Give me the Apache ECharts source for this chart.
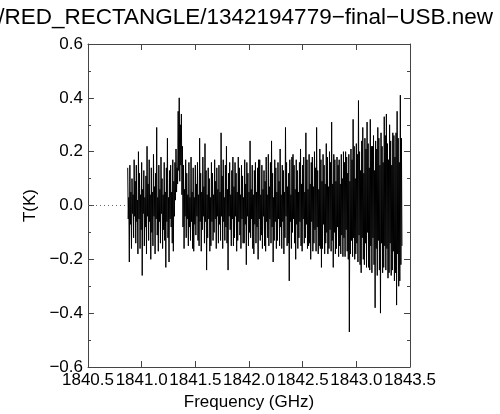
<!DOCTYPE html>
<html>
<head>
<meta charset="utf-8">
<script src="https://cdn.jsdelivr.net/npm/echarts@6/dist/echarts.min.js"></script>
<style>html,body{margin:0;padding:0;background:#fff;}#c{width:500px;height:414px;}</style>
</head>
<body>
<div id="c"></div>
<script>
// Spectrum channels: first channel frequency (GHz) and channel width (GHz)
var freqStart = 1840.87;
var channelWidth = 0.005;
// Antenna temperature T(K) per channel
var temps = [
  0.14, -0.05, 0.03, -0.21, 0.15, -0.07, 0.05, -0.16, 0.10, -0.03,
  0.04, -0.12, 0.17, -0.04, 0.09, -0.14, 0.15, -0.06, 0.02, -0.18,
  0.20, -0.05, 0.12, -0.16, 0.04, -0.09, 0.16, -0.26, 0.06, -0.03,
  0.13, -0.15, 0.03, -0.08, 0.11, -0.18, 0.22, -0.04, 0.08, -0.13,
  0.17, -0.06, 0.04, -0.20, 0.14, -0.10, 0.05, -0.15, 0.19, -0.04,
  0.07, -0.18, 0.12, -0.05, 0.29, -0.11, 0.03, -0.17, 0.15, -0.06,
  0.06, -0.14, 0.18, -0.03, 0.10, -0.16, 0.04, -0.09, 0.16, -0.13,
  0.05, -0.23, 0.14, -0.06, 0.25, -0.12, 0.03, -0.21, 0.13, -0.05,
  0.15, -0.08, 0.05, -0.14, 0.17, -0.17, 0.09, -0.04, 0.16, 0.02,
  0.21, 0.05, 0.14, 0.08, 0.35, 0.13, 0.40, 0.09, 0.30, 0.15,
  0.34, 0.04, 0.22, -0.08, 0.15, -0.16, 0.06, -0.04, 0.17, -0.12,
  0.12, -0.05, 0.04, -0.15, 0.16, -0.08, 0.03, -0.13, 0.18, -0.06,
  0.05, -0.16, 0.14, -0.17, 0.03, -0.07, 0.15, -0.11, 0.08, -0.04,
  0.16, -0.13, 0.04, -0.15, 0.25, -0.06, 0.12, -0.17, 0.05, -0.09,
  0.18, -0.04, 0.07, -0.14, 0.23, -0.06, 0.13, -0.24, 0.04, -0.12,
  0.14, -0.05, 0.10, -0.17, 0.03, -0.15, 0.16, -0.06, 0.12, -0.13,
  0.04, -0.10, 0.17, -0.05, 0.09, -0.16, 0.14, -0.04, 0.06, -0.14,
  0.15, -0.07, 0.05, -0.13, 0.27, -0.04, 0.11, -0.16, 0.17, -0.06,
  0.03, -0.13, 0.15, -0.08, 0.22, -0.14, 0.06, -0.24, 0.12, -0.04,
  0.16, -0.09, 0.04, -0.15, 0.13, -0.05, 0.18, -0.15, 0.07, -0.12,
  0.16, -0.04, 0.12, -0.17, 0.05, -0.13, 0.18, -0.06, 0.14, -0.11,
  0.04, -0.16, 0.15, -0.05, 0.11, -0.14, 0.03, -0.14, 0.17, -0.07,
  0.08, -0.22, 0.16, -0.04, 0.12, -0.15, 0.05, -0.10, 0.24, -0.12,
  0.06, -0.05, 0.15, -0.16, 0.04, -0.18, 0.13, -0.07, 0.16, -0.14,
  0.05, -0.08, 0.14, -0.20, 0.17, -0.05, 0.17, -0.13, 0.04, -0.11,
  0.15, -0.16, 0.06, -0.04, 0.13, -0.15, 0.09, -0.17, 0.18, -0.06,
  0.04, -0.12, 0.19, -0.15, 0.07, -0.05, 0.16, -0.14, 0.24, -0.08,
  0.12, -0.21, 0.03, -0.13, 0.17, -0.06, 0.14, -0.16, 0.05, -0.13,
  0.16, -0.05, 0.09, -0.15, 0.21, -0.08, 0.04, -0.16, 0.15, -0.06,
  0.13, -0.18, 0.05, -0.12, 0.29, -0.04, 0.16, -0.15, 0.07, -0.14,
  0.12, -0.28, 0.17, -0.06, 0.04, -0.16, 0.18, -0.10, 0.19, -0.05,
  0.15, -0.14, 0.06, -0.20, 0.17, -0.07, 0.13, -0.16, 0.05, -0.12,
  0.16, -0.06, 0.21, -0.15, 0.08, -0.17, 0.15, -0.05, 0.18, -0.14,
  0.05, -0.12, 0.27, -0.07, 0.17, -0.16, 0.06, -0.15, 0.19, -0.14,
  0.08, -0.20, 0.16, -0.06, 0.18, -0.17, 0.07, -0.14, 0.20, -0.09,
  0.14, -0.17, 0.29, -0.08, 0.13, -0.18, 0.06, -0.15, 0.21, -0.16,
  0.17, -0.23, 0.09, -0.16, 0.19, -0.07, 0.15, -0.18, 0.08, -0.14,
  0.23, -0.10, 0.18, -0.18, 0.07, -0.16, 0.20, -0.09, 0.16, -0.17,
  0.31, -0.13, 0.08, -0.23, 0.19, -0.10, 0.17, -0.18, 0.09, -0.16,
  0.18, -0.08, 0.15, -0.19, 0.17, -0.15, 0.08, -0.18, 0.19, -0.11,
  0.10, -0.19, 0.20, -0.12, 0.16, -0.19, 0.20, -0.09, 0.18, -0.17,
  0.12, -0.20, 0.19, -0.47, 0.09, -0.18, 0.21, -0.13, 0.17, -0.19,
  0.32, -0.12, 0.22, -0.20, 0.10, -0.18, 0.23, -0.14, 0.19, -0.21,
  0.39, -0.11, 0.20, -0.22, 0.13, -0.25, 0.24, -0.12, 0.29, -0.20,
  0.12, -0.22, 0.25, -0.14, 0.21, -0.23, 0.31, -0.10, 0.23, -0.23,
  0.14, -0.24, 0.32, -0.15, 0.22, -0.25, 0.22, -0.12, 0.26, -0.22,
  0.13, -0.38, 0.24, -0.16, 0.21, -0.26, 0.29, -0.13, 0.25, -0.24,
  0.15, -0.40, 0.27, -0.14, 0.22, -0.25, 0.16, -0.23, 0.33, -0.15,
  0.26, -0.24, 0.34, -0.16, 0.23, -0.27, 0.17, -0.25, 0.30, -0.14,
  0.24, -0.26, 0.15, -0.24, 0.27, -0.17, 0.26, -0.28, 0.18, -0.25,
  0.27, -0.37, 0.35, -0.18, 0.25, -0.30, 0.16, -0.28, 0.41, -0.22,
  0.25, -0.15
];
// Zero-level baseline drawn dotted before the data
var baselineFreqs = [1840.5, 1840.87];
var baselineTemps = [0, 0];

var titleText = '/RED_RECTANGLE/1342194779\u2212final\u2212USB.new';
var xName = 'Frequency (GHz)';
var yName = 'T(K)';

var spectrum = temps.map(function (t, i) { return [freqStart + i * channelWidth, t]; });
var baseline = baselineFreqs.map(function (f, i) { return [f, baselineTemps[i]]; });

var axisColor = '#444';
var font = 'Liberation Sans, Arial, Helvetica, sans-serif';
function fmt(v) { return v.toFixed(1).replace('-', '\u2212'); }

var chart = echarts.init(document.getElementById('c'), null, {renderer: 'canvas'});
chart.setOption({
  animation: false,
  backgroundColor: '#fff',
  title: {
    text: titleText,
    right: 2, top: 1,
    textStyle: {color: '#000', fontWeight: 'normal', fontSize: 22.5, fontFamily: font}
  },
  grid: {left: 88, right: 90, top: 44, bottom: 47, containLabel: false, outerBoundsMode: 'none'},
  xAxis: [{
    type: 'value', min: 1840.5, max: 1843.5, interval: 0.5,
    name: xName, nameLocation: 'middle', nameGap: 27,
    nameTextStyle: {color: '#000', fontSize: 17, fontFamily: font},
    axisLine: {show: true, onZero: false, lineStyle: {color: axisColor, width: 1}},
    axisTick: {show: true, inside: true, length: 6, lineStyle: {color: axisColor}},
    axisLabel: {color: '#000', fontSize: 17, fontFamily: font, margin: 5, formatter: fmt, showMinLabel: true, showMaxLabel: true},
    splitLine: {show: false}
  }, {
    type: 'value', position: 'top', min: 1840.5, max: 1843.5, interval: 0.5,
    axisLine: {show: true, onZero: false, lineStyle: {color: axisColor, width: 1}},
    axisTick: {show: true, inside: true, length: 6, lineStyle: {color: axisColor}},
    axisLabel: {show: false}, splitLine: {show: false}
  }],
  yAxis: [{
    type: 'value', min: -0.6, max: 0.6, interval: 0.2,
    name: yName, nameLocation: 'middle', nameGap: 47,
    nameTextStyle: {color: '#000', fontSize: 17, fontFamily: font},
    axisLine: {show: true, onZero: false, lineStyle: {color: axisColor, width: 1}},
    axisTick: {show: true, inside: true, length: 6, lineStyle: {color: axisColor}},
    minorTick: {show: true, splitNumber: 2, length: 3, lineStyle: {color: axisColor}},
    axisLabel: {color: '#000', fontSize: 17, fontFamily: font, margin: 5, formatter: fmt, showMinLabel: true, showMaxLabel: true},
    splitLine: {show: false}
  }, {
    type: 'value', position: 'right', min: -0.6, max: 0.6, interval: 0.2,
    axisLine: {show: true, onZero: false, lineStyle: {color: axisColor, width: 1}},
    axisTick: {show: true, inside: true, length: 6, lineStyle: {color: axisColor}},
    minorTick: {show: true, splitNumber: 2, length: 3, lineStyle: {color: axisColor}},
    axisLabel: {show: false}, splitLine: {show: false}
  }],
  series: [{
    type: 'line', data: baseline, showSymbol: false, symbol: 'none',
    lineStyle: {color: '#666', width: 1, type: [1, 3]}, silent: true
  }, {
    type: 'line', data: spectrum, showSymbol: false, symbol: 'none',
    lineStyle: {color: '#000', width: 1}, silent: true
  }]
});
</script>
</body>
</html>
